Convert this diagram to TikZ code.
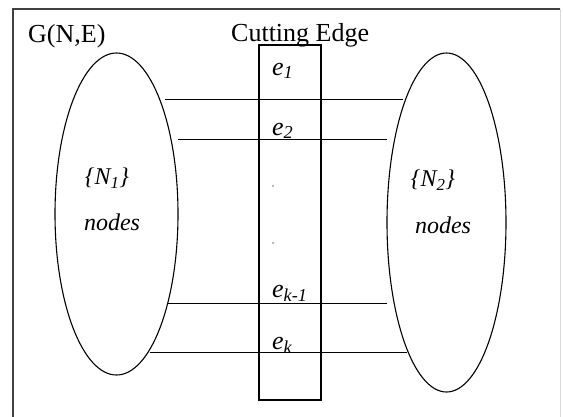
\documentclass[tikz,border=0pt]{standalone}
\usepackage{fontspec}
\setmainfont{Liberation Serif}
\usetikzlibrary{shapes.geometric}
\tikzset{
  nodeset/.style={ellipse, draw, line width=1.1pt, inner sep=0pt},
  cutbox/.style={draw, line width=2.6pt, inner sep=0pt},
  cutline/.style={line width=0.9pt},
  titletext/.style={font=\fontsize{26}{30}\selectfont, anchor=base west, inner sep=0pt},
  elabel/.style={font=\fontsize{26}{30}\selectfont\itshape, anchor=base west, inner sep=0pt},
  setlabel/.style={font=\fontsize{24}{28}\selectfont\itshape, inner sep=0pt},
  dotmark/.style={circle, fill=black!55, inner sep=0.6pt}
}
\begin{document}
\begin{tikzpicture}[x=1pt, y=-1pt]
\clip (0,0) rectangle (563,416);
% outer frame
\draw[line width=1.4pt, black!75] (13,430) -- (13,9) -- (560,9);
\draw[line width=0.8pt, black!15] (560,9) -- (560,430);

\node[titletext] (graph) at (28,42) {G(N,E)};
\node[titletext] (cuttitle) at (231,41) {Cutting Edge};

% the two node sets
\node[nodeset, minimum width=123pt, minimum height=322pt] (N1) at (116.5,214) {};
\node[nodeset, minimum width=119pt, minimum height=339pt] (N2) at (446.5,222.5) {};
\node[setlabel] (N1name) at (107,178) {\{N\textsubscript{1}\}};
\node[setlabel] (N1nodes) at (112,222) {nodes};
\node[setlabel] (N2name) at (433,180) {\{N\textsubscript{2}\}};
\node[setlabel] (N2nodes) at (443,225) {nodes};

% cut
\node[cutbox, minimum width=62pt, minimum height=355pt] (cut) at (290,222.5) {};

% edges across the cut
\foreach \y/\xa/\xb [count=\i] in {99/165/403, 139/178/387, 303/168/387, 352/150/407} {
  \coordinate (left\i) at (\xa,\y);
  \coordinate (right\i) at (\xb,\y);
  \draw[cutline] (left\i) -- (right\i);
}

\node[elabel] (e1) at (272,75) {e\textsubscript{1}};
\node[elabel] (e2) at (272,135) {e\textsubscript{2}};
\node[elabel] (ek1) at (272,297) {e\textsubscript{k-1}};
\node[elabel] (ek) at (272,349) {e\textsubscript{k}};
\node[dotmark] (dot1) at (273,186) {};
\node[dotmark] (dot2) at (273,243) {};
\end{tikzpicture}
\end{document}
